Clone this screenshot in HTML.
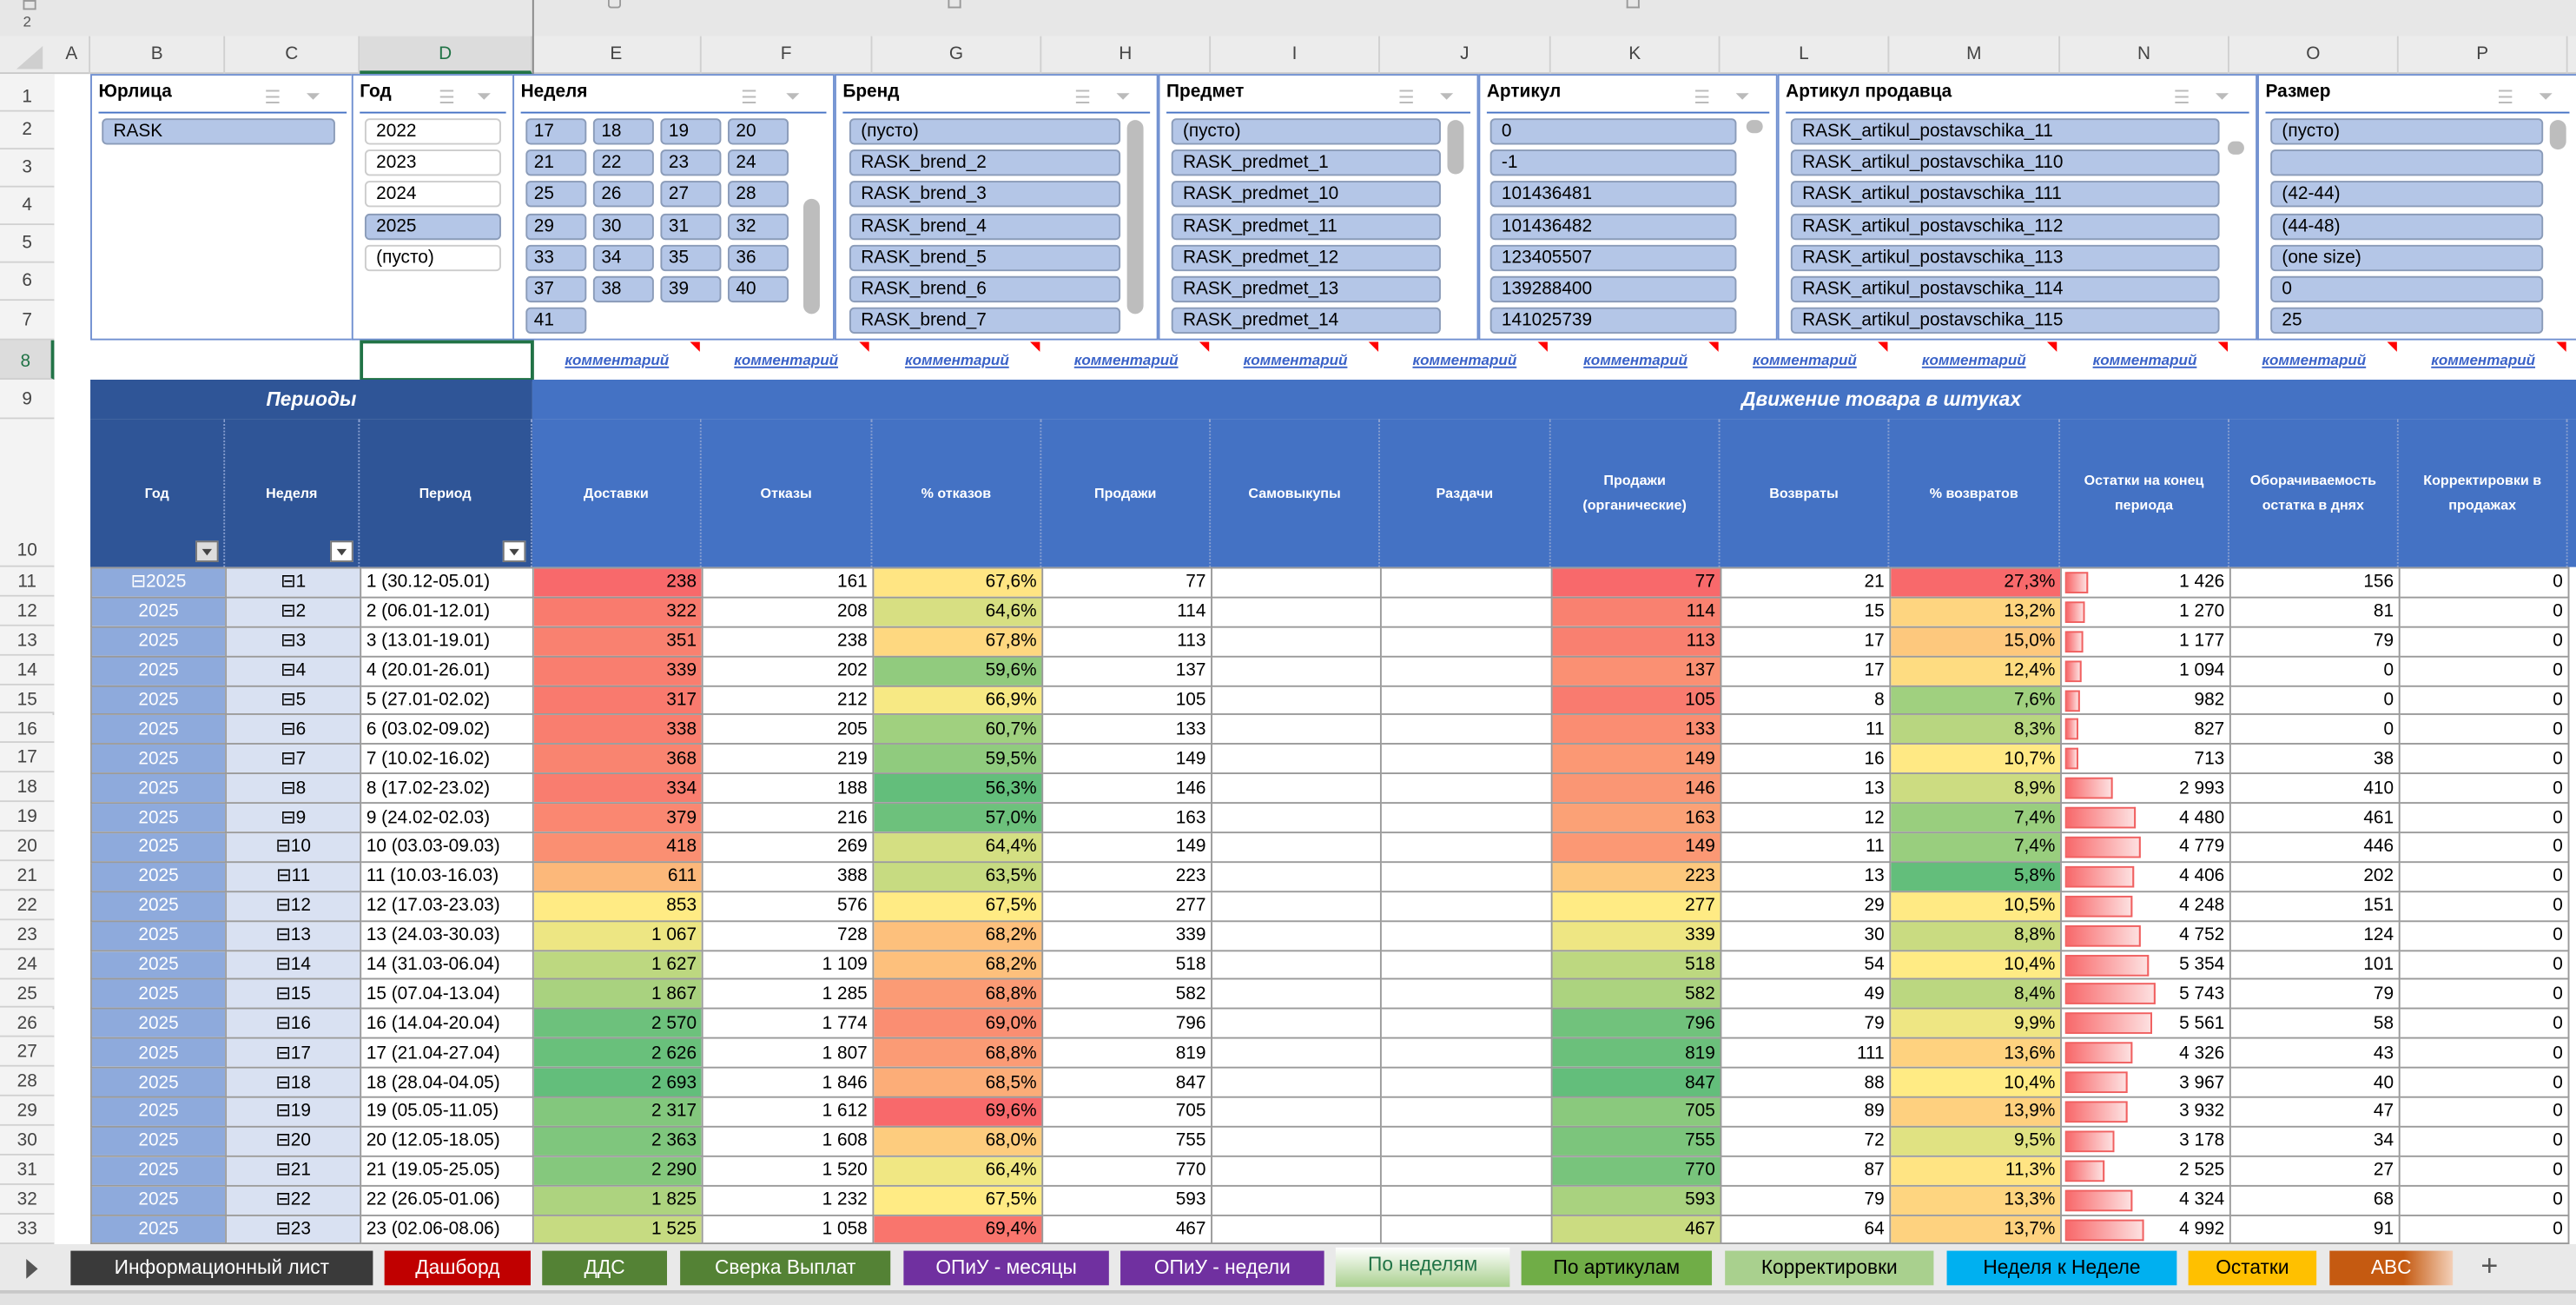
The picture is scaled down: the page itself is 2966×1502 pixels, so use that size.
<!DOCTYPE html>
<html><head><meta charset="utf-8">
<style>
html,body{margin:0;padding:0;}
body{width:2966px;height:1502px;overflow:hidden;background:#fff;position:relative;}
#w{position:absolute;left:0;top:0;width:1568px;height:794px;transform:scale(1.8916,1.8917);transform-origin:0 0;font-family:"Liberation Sans Narrow","Liberation Sans",sans-serif;font-size:11px;color:#000;}
.a{position:absolute;box-sizing:border-box;}
.ch{position:absolute;top:22px;height:23px;line-height:23px;text-align:center;color:#444;font-size:11px;border-right:1px solid #d0d0d0;box-sizing:border-box;}
.rh{position:absolute;left:0;width:33px;text-align:center;color:#444;font-size:11px;border-bottom:1px solid #d0d0d0;box-sizing:border-box;background:#f3f3f3;}
.sl{position:absolute;top:45px;height:162px;border:1px solid #6f8fd0;box-sizing:border-box;background:#fff;}
.st{position:absolute;left:4px;top:4px;font-weight:bold;font-size:11px;font-family:"Liberation Sans",sans-serif;}
.sline{position:absolute;left:4px;right:4px;top:22px;border-top:1px solid #4472c4;}
.it{position:absolute;height:16px;line-height:15px;border-radius:3px;background:#b4c6e7;border:1px solid #8a9bb8;box-sizing:border-box;padding-left:6px;font-size:11px;font-family:"Liberation Sans",sans-serif;white-space:nowrap;overflow:hidden;}
.iw{background:#fff;border-color:#ccc;}
.sb{position:absolute;background:#bdbdbd;border-radius:5px;width:10px;}
.ic{position:absolute;top:7px;color:#bbb;font-size:11px;}
.cm{position:absolute;top:207px;height:24px;line-height:24px;text-align:center;color:#3a62c8;font-style:italic;font-weight:bold;text-decoration:underline;font-size:9px;font-family:"Liberation Sans",sans-serif;}
.tri{position:absolute;top:208px;width:0;height:0;border-left:6px solid transparent;border-top:6px solid #f00;}
table{position:absolute;left:55px;top:345px;border-collapse:collapse;table-layout:fixed;}
td{height:17.9px;padding:0 3px;box-sizing:border-box;border:1px solid #9a9a9a;white-space:nowrap;overflow:hidden;text-align:right;font-size:11px;line-height:16px;}
td.b{background:#8eaadc;color:#fff;text-align:center;}
td.c{background:#d9e1f2;text-align:center;}
td.d{text-align:left;}
td.n{position:relative;}
.bar{position:absolute;left:2px;top:2px;height:13px;border:1px solid #f06060;box-sizing:border-box;background:linear-gradient(90deg,#f8696b,#fde0e0);}
.h10{position:absolute;top:255px;height:90px;color:#fff;font-weight:bold;font-size:8.5px;font-family:"Liberation Sans",sans-serif;text-align:center;display:flex;align-items:center;justify-content:center;border-right:1px dotted #8aa0d0;box-sizing:border-box;line-height:15px;}
.dd{position:absolute;bottom:3px;right:3px;width:14px;height:13px;background:#fff;border:1px solid #777;box-sizing:border-box;}
.dd:after{content:"";position:absolute;left:3px;top:4px;border-left:3.5px solid transparent;border-right:3.5px solid transparent;border-top:4px solid #444;}
.tab{position:absolute;top:761px;height:21px;line-height:21px;text-align:center;font-size:12px;font-family:"Liberation Sans",sans-serif;color:#fff;}
</style></head><body><div id="w">
<div class="a" style="left:0;top:0;width:1568px;height:22px;background:#e7e7e7;"></div>
<div class="a" style="left:14px;top:0;width:8px;height:6px;border:1px solid #999;font-size:6px;"></div>
<div class="a" style="left:14px;top:8px;font-size:9px;color:#555;">2</div>
<div class="a" style="left:370px;top:0;width:8px;height:5px;border:1px solid #999;border-top:none;border-radius:0 0 2px 2px;"></div>
<div class="a" style="left:577px;top:0;width:8px;height:5px;border:1px solid #999;border-top:none;"></div>
<div class="a" style="left:990px;top:0;width:8px;height:5px;border:1px solid #999;border-top:none;"></div>
<div class="a" style="left:0;top:22px;width:1568px;height:23px;background:#ececec;border-bottom:1px solid #c8c8c8;"></div>
<div class="a" style="left:10px;top:28px;width:0;height:0;border-left:16px solid transparent;border-bottom:14px solid #cfcfcf;"></div>
<div class="ch" style="left:33px;width:22px">A</div>
<div class="ch" style="left:55px;width:82px">B</div>
<div class="ch" style="left:137px;width:82px">C</div>
<div class="ch" style="left:219px;width:105px;color:#217346;background:#dcdcdc;border-bottom:2px solid #217346">D</div>
<div class="ch" style="left:324px;width:103px">E</div>
<div class="ch" style="left:427px;width:104px">F</div>
<div class="ch" style="left:531px;width:103px">G</div>
<div class="ch" style="left:634px;width:103px">H</div>
<div class="ch" style="left:737px;width:103px">I</div>
<div class="ch" style="left:840px;width:104px">J</div>
<div class="ch" style="left:944px;width:103px">K</div>
<div class="ch" style="left:1047px;width:103px">L</div>
<div class="ch" style="left:1150px;width:104px">M</div>
<div class="ch" style="left:1254px;width:103px">N</div>
<div class="ch" style="left:1357px;width:103px">O</div>
<div class="ch" style="left:1460px;width:103px">P</div>
<div class="a" style="left:324px;top:0;width:1px;height:345px;background:#888;"></div>
<div class="a" style="left:0;top:45px;width:33px;height:712px;background:#f3f3f3;border-right:1px solid #c8c8c8;"></div>
<div class="rh" style="top:45px;height:23px;line-height:28px">1</div>
<div class="rh" style="top:68px;height:23px;line-height:23px">2</div>
<div class="rh" style="top:91px;height:23px;line-height:23px">3</div>
<div class="rh" style="top:114px;height:23px;line-height:23px">4</div>
<div class="rh" style="top:137px;height:23px;line-height:23px">5</div>
<div class="rh" style="top:160px;height:23px;line-height:23px">6</div>
<div class="rh" style="top:183px;height:24px;line-height:24px">7</div>
<div class="rh" style="top:207px;height:24px;line-height:26px;color:#217346;background:#dcdcdc;border-right:2px solid #217346">8</div>
<div class="rh" style="top:231px;height:24px;line-height:24px">9</div>
<div class="rh" style="top:255px;height:90px;line-height:160px">10</div>
<div id="rhs"></div>
<div class="sl" style="left:55px;width:161px"><div class="st">Юрлица</div><div class="ic" style="left:105px">☰</div><div class="ic" style="left:130px">⏷</div><div class="sline"></div>
<div class="it" style="left:6px;top:26px;width:142px">RASK</div></div>
<div class="sl" style="left:214px;width:99px"><div class="st">Год</div><div class="ic" style="left:52px">☰</div><div class="ic" style="left:75px">⏷</div><div class="sline"></div>
<div class="it iw" style="left:7px;top:26px;width:83px">2022</div>
<div class="it iw" style="left:7px;top:45.2px;width:83px">2023</div>
<div class="it iw" style="left:7px;top:64.4px;width:83px">2024</div>
<div class="it" style="left:7px;top:83.6px;width:83px">2025</div>
<div class="it iw" style="left:7px;top:102.8px;width:83px">(пусто)</div></div>
<div class="sl" style="left:312px;width:196px"><div class="st">Неделя</div><div class="ic" style="left:138px">☰</div><div class="ic" style="left:165px">⏷</div><div class="sline"></div>
<div id="wk"></div><div class="sb" style="left:176px;top:75px;height:70px"></div></div>
<div class="sl" style="left:508px;width:197px"><div class="st">Бренд</div><div class="ic" style="left:145px">☰</div><div class="ic" style="left:170px">⏷</div><div class="sline"></div>
<div class="it" style="left:8px;top:26px;width:165px">(пусто)</div>
<div class="it" style="left:8px;top:45.2px;width:165px">RASK_brend_2</div>
<div class="it" style="left:8px;top:64.4px;width:165px">RASK_brend_3</div>
<div class="it" style="left:8px;top:83.6px;width:165px">RASK_brend_4</div>
<div class="it" style="left:8px;top:102.8px;width:165px">RASK_brend_5</div>
<div class="it" style="left:8px;top:122px;width:165px">RASK_brend_6</div>
<div class="it" style="left:8px;top:141.2px;width:165px">RASK_brend_7</div>
<div class="sb" style="left:177px;top:27px;height:118px"></div></div>
<div class="sl" style="left:705px;width:195px"><div class="st">Предмет</div><div class="ic" style="left:145px">☰</div><div class="ic" style="left:170px">⏷</div><div class="sline"></div>
<div class="it" style="left:7px;top:26px;width:164px">(пусто)</div>
<div class="it" style="left:7px;top:45.2px;width:164px">RASK_predmet_1</div>
<div class="it" style="left:7px;top:64.4px;width:164px">RASK_predmet_10</div>
<div class="it" style="left:7px;top:83.6px;width:164px">RASK_predmet_11</div>
<div class="it" style="left:7px;top:102.8px;width:164px">RASK_predmet_12</div>
<div class="it" style="left:7px;top:122px;width:164px">RASK_predmet_13</div>
<div class="it" style="left:7px;top:141.2px;width:164px">RASK_predmet_14</div>
<div class="sb" style="left:175px;top:27px;height:33px"></div></div>
<div class="sl" style="left:900px;width:182px"><div class="st">Артикул</div><div class="ic" style="left:130px">☰</div><div class="ic" style="left:155px">⏷</div><div class="sline"></div>
<div class="it" style="left:6px;top:26px;width:150px">0</div>
<div class="it" style="left:6px;top:45.2px;width:150px">-1</div>
<div class="it" style="left:6px;top:64.4px;width:150px">101436481</div>
<div class="it" style="left:6px;top:83.6px;width:150px">101436482</div>
<div class="it" style="left:6px;top:102.8px;width:150px">123405507</div>
<div class="it" style="left:6px;top:122px;width:150px">139288400</div>
<div class="it" style="left:6px;top:141.2px;width:150px">141025739</div>
<div class="sb" style="left:162px;top:27px;height:8px"></div></div>
<div class="sl" style="left:1082px;width:292px"><div class="st">Артикул продавца</div><div class="ic" style="left:240px">☰</div><div class="ic" style="left:265px">⏷</div><div class="sline"></div>
<div class="it" style="left:7px;top:26px;width:261px">RASK_artikul_postavschika_11</div>
<div class="it" style="left:7px;top:45.2px;width:261px">RASK_artikul_postavschika_110</div>
<div class="it" style="left:7px;top:64.4px;width:261px">RASK_artikul_postavschika_111</div>
<div class="it" style="left:7px;top:83.6px;width:261px">RASK_artikul_postavschika_112</div>
<div class="it" style="left:7px;top:102.8px;width:261px">RASK_artikul_postavschika_113</div>
<div class="it" style="left:7px;top:122px;width:261px">RASK_artikul_postavschika_114</div>
<div class="it" style="left:7px;top:141.2px;width:261px">RASK_artikul_postavschika_115</div>
<div class="sb" style="left:273px;top:40px;height:8px"></div></div>
<div class="sl" style="left:1374px;width:194px;border-right:none"><div class="st">Размер</div><div class="ic" style="left:145px">☰</div><div class="ic" style="left:170px">⏷</div><div class="sline"></div>
<div class="it" style="left:7px;top:26px;width:166px">(пусто)</div>
<div class="it" style="left:7px;top:45.2px;width:166px"></div>
<div class="it" style="left:7px;top:64.4px;width:166px">(42-44)</div>
<div class="it" style="left:7px;top:83.6px;width:166px">(44-48)</div>
<div class="it" style="left:7px;top:102.8px;width:166px">(one size)</div>
<div class="it" style="left:7px;top:122px;width:166px">0</div>
<div class="it" style="left:7px;top:141.2px;width:166px">25</div>
<div class="sb" style="left:177px;top:27px;height:18px"></div></div>
<div class="a" style="left:219px;top:207px;width:106px;height:25px;border:2px solid #217346;"></div>
<div id="cms"></div>
<div class="a" style="left:55px;top:231px;width:269px;height:24px;background:#2f5597;color:#fff;font-weight:bold;font-style:italic;text-align:center;line-height:24px;font-size:12px;font-family:'Liberation Sans',sans-serif;">Периоды</div>
<div class="a" style="left:324px;top:231px;width:1244px;height:24px;background:#4472c4;color:#fff;font-weight:bold;font-style:italic;line-height:24px;font-size:12px;font-family:'Liberation Sans',sans-serif;"><span style="position:absolute;left:736px;">Движение товара в штуках</span></div>
<div class="a" style="left:55px;top:255px;width:269px;height:90px;background:#2f5597;"></div>
<div class="a" style="left:324px;top:255px;width:1244px;height:90px;background:#4472c4;"></div>
<div class="h10" style="left:55px;width:82px">Год<div class="dd" style="background:#ddd"></div></div>
<div class="h10" style="left:137px;width:82px">Неделя<div class="dd"></div></div>
<div class="h10" style="left:219px;width:105px">Период<div class="dd"></div></div>
<div class="h10" style="left:324px;width:103px">Доставки</div>
<div class="h10" style="left:427px;width:104px">Отказы</div>
<div class="h10" style="left:531px;width:103px">% отказов</div>
<div class="h10" style="left:634px;width:103px">Продажи</div>
<div class="h10" style="left:737px;width:103px">Самовыкупы</div>
<div class="h10" style="left:840px;width:104px">Раздачи</div>
<div class="h10" style="left:944px;width:103px">Продажи<br>(органические)</div>
<div class="h10" style="left:1047px;width:103px">Возвраты</div>
<div class="h10" style="left:1150px;width:104px">% возвратов</div>
<div class="h10" style="left:1254px;width:103px">Остатки на конец<br>периода</div>
<div class="h10" style="left:1357px;width:103px">Оборачиваемость<br>остатка в днях</div>
<div class="h10" style="left:1460px;width:103px">Корректировки в<br>продажах</div>
<table id="t">
<colgroup><col style="width:82px"><col style="width:82px"><col style="width:105px"><col style="width:103px"><col style="width:104px"><col style="width:103px"><col style="width:103px"><col style="width:103px"><col style="width:104px"><col style="width:103px"><col style="width:103px"><col style="width:104px"><col style="width:103px"><col style="width:103px"><col style="width:103px"></colgroup>
<tr><td class="b">⊟2025</td><td class="c">⊟1</td><td class="d">1 (30.12-05.01)</td><td>238</td><td>161</td><td>67,6%</td><td>77</td><td></td><td></td><td>77</td><td>21</td><td>27,3%</td><td class="n">1 426</td><td>156</td><td>0</td></tr>
<tr><td class="b">2025</td><td class="c">⊟2</td><td class="d">2 (06.01-12.01)</td><td>322</td><td>208</td><td>64,6%</td><td>114</td><td></td><td></td><td>114</td><td>15</td><td>13,2%</td><td class="n">1 270</td><td>81</td><td>0</td></tr>
<tr><td class="b">2025</td><td class="c">⊟3</td><td class="d">3 (13.01-19.01)</td><td>351</td><td>238</td><td>67,8%</td><td>113</td><td></td><td></td><td>113</td><td>17</td><td>15,0%</td><td class="n">1 177</td><td>79</td><td>0</td></tr>
<tr><td class="b">2025</td><td class="c">⊟4</td><td class="d">4 (20.01-26.01)</td><td>339</td><td>202</td><td>59,6%</td><td>137</td><td></td><td></td><td>137</td><td>17</td><td>12,4%</td><td class="n">1 094</td><td>0</td><td>0</td></tr>
<tr><td class="b">2025</td><td class="c">⊟5</td><td class="d">5 (27.01-02.02)</td><td>317</td><td>212</td><td>66,9%</td><td>105</td><td></td><td></td><td>105</td><td>8</td><td>7,6%</td><td class="n">982</td><td>0</td><td>0</td></tr>
<tr><td class="b">2025</td><td class="c">⊟6</td><td class="d">6 (03.02-09.02)</td><td>338</td><td>205</td><td>60,7%</td><td>133</td><td></td><td></td><td>133</td><td>11</td><td>8,3%</td><td class="n">827</td><td>0</td><td>0</td></tr>
<tr><td class="b">2025</td><td class="c">⊟7</td><td class="d">7 (10.02-16.02)</td><td>368</td><td>219</td><td>59,5%</td><td>149</td><td></td><td></td><td>149</td><td>16</td><td>10,7%</td><td class="n">713</td><td>38</td><td>0</td></tr>
<tr><td class="b">2025</td><td class="c">⊟8</td><td class="d">8 (17.02-23.02)</td><td>334</td><td>188</td><td>56,3%</td><td>146</td><td></td><td></td><td>146</td><td>13</td><td>8,9%</td><td class="n">2 993</td><td>410</td><td>0</td></tr>
<tr><td class="b">2025</td><td class="c">⊟9</td><td class="d">9 (24.02-02.03)</td><td>379</td><td>216</td><td>57,0%</td><td>163</td><td></td><td></td><td>163</td><td>12</td><td>7,4%</td><td class="n">4 480</td><td>461</td><td>0</td></tr>
<tr><td class="b">2025</td><td class="c">⊟10</td><td class="d">10 (03.03-09.03)</td><td>418</td><td>269</td><td>64,4%</td><td>149</td><td></td><td></td><td>149</td><td>11</td><td>7,4%</td><td class="n">4 779</td><td>446</td><td>0</td></tr>
<tr><td class="b">2025</td><td class="c">⊟11</td><td class="d">11 (10.03-16.03)</td><td>611</td><td>388</td><td>63,5%</td><td>223</td><td></td><td></td><td>223</td><td>13</td><td>5,8%</td><td class="n">4 406</td><td>202</td><td>0</td></tr>
<tr><td class="b">2025</td><td class="c">⊟12</td><td class="d">12 (17.03-23.03)</td><td>853</td><td>576</td><td>67,5%</td><td>277</td><td></td><td></td><td>277</td><td>29</td><td>10,5%</td><td class="n">4 248</td><td>151</td><td>0</td></tr>
<tr><td class="b">2025</td><td class="c">⊟13</td><td class="d">13 (24.03-30.03)</td><td>1 067</td><td>728</td><td>68,2%</td><td>339</td><td></td><td></td><td>339</td><td>30</td><td>8,8%</td><td class="n">4 752</td><td>124</td><td>0</td></tr>
<tr><td class="b">2025</td><td class="c">⊟14</td><td class="d">14 (31.03-06.04)</td><td>1 627</td><td>1 109</td><td>68,2%</td><td>518</td><td></td><td></td><td>518</td><td>54</td><td>10,4%</td><td class="n">5 354</td><td>101</td><td>0</td></tr>
<tr><td class="b">2025</td><td class="c">⊟15</td><td class="d">15 (07.04-13.04)</td><td>1 867</td><td>1 285</td><td>68,8%</td><td>582</td><td></td><td></td><td>582</td><td>49</td><td>8,4%</td><td class="n">5 743</td><td>79</td><td>0</td></tr>
<tr><td class="b">2025</td><td class="c">⊟16</td><td class="d">16 (14.04-20.04)</td><td>2 570</td><td>1 774</td><td>69,0%</td><td>796</td><td></td><td></td><td>796</td><td>79</td><td>9,9%</td><td class="n">5 561</td><td>58</td><td>0</td></tr>
<tr><td class="b">2025</td><td class="c">⊟17</td><td class="d">17 (21.04-27.04)</td><td>2 626</td><td>1 807</td><td>68,8%</td><td>819</td><td></td><td></td><td>819</td><td>111</td><td>13,6%</td><td class="n">4 326</td><td>43</td><td>0</td></tr>
<tr><td class="b">2025</td><td class="c">⊟18</td><td class="d">18 (28.04-04.05)</td><td>2 693</td><td>1 846</td><td>68,5%</td><td>847</td><td></td><td></td><td>847</td><td>88</td><td>10,4%</td><td class="n">3 967</td><td>40</td><td>0</td></tr>
<tr><td class="b">2025</td><td class="c">⊟19</td><td class="d">19 (05.05-11.05)</td><td>2 317</td><td>1 612</td><td>69,6%</td><td>705</td><td></td><td></td><td>705</td><td>89</td><td>13,9%</td><td class="n">3 932</td><td>47</td><td>0</td></tr>
<tr><td class="b">2025</td><td class="c">⊟20</td><td class="d">20 (12.05-18.05)</td><td>2 363</td><td>1 608</td><td>68,0%</td><td>755</td><td></td><td></td><td>755</td><td>72</td><td>9,5%</td><td class="n">3 178</td><td>34</td><td>0</td></tr>
<tr><td class="b">2025</td><td class="c">⊟21</td><td class="d">21 (19.05-25.05)</td><td>2 290</td><td>1 520</td><td>66,4%</td><td>770</td><td></td><td></td><td>770</td><td>87</td><td>11,3%</td><td class="n">2 525</td><td>27</td><td>0</td></tr>
<tr><td class="b">2025</td><td class="c">⊟22</td><td class="d">22 (26.05-01.06)</td><td>1 825</td><td>1 232</td><td>67,5%</td><td>593</td><td></td><td></td><td>593</td><td>79</td><td>13,3%</td><td class="n">4 324</td><td>68</td><td>0</td></tr>
<tr><td class="b">2025</td><td class="c">⊟23</td><td class="d">23 (02.06-08.06)</td><td>1 525</td><td>1 058</td><td>69,4%</td><td>467</td><td></td><td></td><td>467</td><td>64</td><td>13,7%</td><td class="n">4 992</td><td>91</td><td>0</td></tr>
</table>
<div class="a" style="left:0;top:757px;width:1568px;height:28px;background:#e9e9e9;"></div>
<div class="a" style="left:16px;top:766px;width:0;height:0;border-top:6px solid transparent;border-bottom:6px solid transparent;border-left:7px solid #555;"></div>
<div class="tab" style="left:43px;width:184px;background:#3a3a3a">Информационный лист</div>
<div class="tab" style="left:234px;width:89px;background:#c00000">Дашборд</div>
<div class="tab" style="left:330px;width:76px;background:#548235">ДДС</div>
<div class="tab" style="left:414px;width:128px;background:#548235">Сверка Выплат</div>
<div class="tab" style="left:550px;width:125px;background:#7030a0">ОПиУ - месяцы</div>
<div class="tab" style="left:682px;width:124px;background:#7030a0">ОПиУ - недели</div>
<div class="tab" style="left:813px;width:106px;top:759px;height:24px;background:linear-gradient(#fff,#a9d08e);color:#217346;">По неделям</div>
<div class="tab" style="left:926px;width:116px;background:#70ad47;color:#000">По артикулам</div>
<div class="tab" style="left:1050px;width:127px;background:#a9d08e;color:#000">Корректировки</div>
<div class="tab" style="left:1185px;width:140px;background:#00b0f0;color:#000">Неделя к Неделе</div>
<div class="tab" style="left:1332px;width:78px;background:#ffc000;color:#000">Остатки</div>
<div class="tab" style="left:1418px;width:75px;background:linear-gradient(90deg,#c55a11 60%,#f3d0b8)">ABC</div>
<div class="a" style="left:1510px;top:760px;font-size:18px;color:#555">+</div>
<div class="a" style="left:0;top:785px;width:1568px;height:9px;background:#e2e2e2;border-top:2px solid #c8c8c8;"></div>
</div>
<script>
(function(){
var rhs=document.getElementById('rhs'),h='';
for(var i=0;i<23;i++){h+='<div class="rh" style="top:'+(345+i*17.9)+'px;height:17.9px;line-height:18px">'+(11+i)+'</div>';}
rhs.innerHTML=h;
var wk=document.getElementById('wk');h='';
for(var n=17;n<=41;n++){var k=n-17,r=Math.floor(k/4),c=k%4;h+='<div class="it" style="left:'+(7+c*41)+'px;top:'+(26+r*19.2)+'px;width:37px;padding-left:4px">'+n+'</div>';}
wk.innerHTML=h;
var cm=document.getElementById('cms');h='';
var L=[324,427,531,634,737,840,944,1047,1150,1254,1357,1460];
for(var i=0;i<12;i++){h+='<div class="cm" style="left:'+L[i]+'px;width:103px">комментарий</div><div class="tri" style="left:'+(L[i]+96)+'px"></div>';}
cm.innerHTML=h;
function num(s){return parseFloat(s.replace(/\s/g,'').replace(/\u00a0/g,'').replace(',','.').replace('%',''));}
function mix(a,b,t){return 'rgb('+[0,1,2].map(function(i){return Math.round(a[i]+(b[i]-a[i])*t)}).join(',')+')';}
var R=[248,105,107],Y=[255,235,132],G=[99,190,123];
var rows=document.querySelectorAll('#t tr');
function scale(col,lowGood){
 var v=[];rows.forEach(function(tr){v.push(num(tr.children[col].textContent));});
 var s=v.slice().sort(function(a,b){return a-b}),mn=s[0],mx=s[s.length-1],md=s[Math.floor(s.length/2)];
 rows.forEach(function(tr,i){var x=v[i],lo=lowGood?G:R,hi=lowGood?R:G,c;
  if(x<=md)c=mix(lo,Y,(x-mn)/(md-mn||1));else c=mix(Y,hi,(x-md)/(mx-md||1));
  tr.children[col].style.background=c;});
}
scale(3,false);scale(5,true);scale(9,false);scale(11,true);
var mx=5743;
rows.forEach(function(tr){var td=tr.children[12],x=num(td.textContent);var b=document.createElement('div');b.className='bar';b.style.width=Math.max(8,x/mx*55)+'px';td.appendChild(b);});
})();
</script>
</body></html>
